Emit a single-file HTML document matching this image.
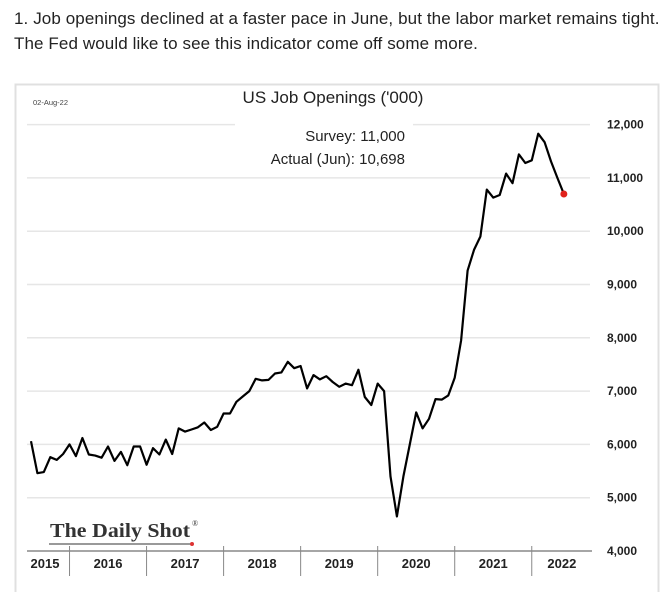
<!DOCTYPE html>
<html><head><meta charset="utf-8"><style>
body{margin:0;width:670px;height:592px;background:#fff;overflow:hidden;font-family:"Liberation Sans",sans-serif}
.hdr{position:absolute;left:14px;top:6px;font-size:17px;line-height:25px;color:#222;letter-spacing:0.1px;white-space:nowrap}
</style></head><body>
<div class="hdr">1. Job openings declined at a faster pace in June, but the labor market remains tight.<br>The Fed would like to see this indicator come off some more.</div>
<svg id="chart" width="670" height="592" style="position:absolute;left:0;top:0">
<rect x="15.5" y="84.5" width="643" height="520" fill="none" stroke="#e0e0e0" stroke-width="2"/>
<text x="33" y="105" font-size="7.5" fill="#444">02-Aug-22</text>
<text x="333" y="103" font-size="17" text-anchor="middle" fill="#222">US Job Openings ('000)</text>
<text x="405" y="141" font-size="15" text-anchor="end" fill="#222">Survey:  11,000</text>
<text x="405" y="164" font-size="15" text-anchor="end" fill="#222">Actual (Jun):  10,698</text>
<g id="grid"></g><g id="axis"></g><g id="series"></g>
<g>
<text x="50" y="537" font-family="Liberation Serif,serif" font-size="20" font-weight="bold" fill="#333" textLength="140" lengthAdjust="spacingAndGlyphs">The Daily Shot</text>
<text x="192" y="526" font-family="Liberation Serif,serif" font-size="8" fill="#333">®</text>
<line x1="49" y1="544" x2="192" y2="544" stroke="#333" stroke-width="1"/>
<circle cx="192" cy="544" r="2" fill="#d33"/>
</g>
</svg>
<script>
const yTicks=[4000,5000,6000,7000,8000,9000,10000,11000,12000];
const years=["2015","2016","2017","2018","2019","2020","2021","2022"];
const startMonth=6;
const values=[6060,5460,5480,5760,5710,5820,6000,5780,6120,5810,5790,5750,5960,5690,5860,5610,5960,5960,5620,5930,5810,6090,5820,6300,6240,6280,6320,6410,6270,6330,6580,6580,6800,6900,7000,7230,7200,7210,7330,7350,7550,7430,7470,7050,7300,7220,7280,7170,7080,7140,7110,7400,6890,6740,7140,7000,5400,4650,5400,6000,6600,6300,6480,6850,6840,6920,7250,7950,9260,9650,9900,10780,10630,10680,11080,10900,11440,11280,11330,11830,11670,11310,11000,10698];
const NS="http://www.w3.org/2000/svg";
const x0=31,step=6.42;
const xm=m=>x0+(m-startMonth)*step;
const y=v=>551-(v-4000)*0.0533;
function mk(t,a,p){const e=document.createElementNS(NS,t);for(const k in a)e.setAttribute(k,a[k]);p.appendChild(e);return e;}
const grid=document.getElementById('grid'),axis=document.getElementById('axis'),ser=document.getElementById('series');
yTicks.forEach(v=>{
 if(v>4000){
  if(v===12000){
   const g1=mk('line',{x1:27,x2:235,y1:y(v),y2:y(v),stroke:'#e6e6e6','stroke-width':1.5},grid);
   
   const g2=mk('line',{x1:413,x2:590,y1:y(v),y2:y(v),stroke:'#e6e6e6','stroke-width':1.5},grid);
   
  } else {
   const g=mk('line',{x1:27,x2:590,y1:y(v),y2:y(v),stroke:'#e6e6e6','stroke-width':1.5},grid);
   
  }
 }
 const t=mk('text',{x:607,y:y(v)+4,'font-size':12,'font-weight':'bold',fill:'#222'},axis);
 t.textContent=v.toLocaleString('en-US');
 
});
const al=mk('line',{x1:27,x2:592,y1:551,y2:551,stroke:'#888','stroke-width':1.5},axis);

years.forEach((yr,i)=>{
 const xs=Math.max(27,xm(i*12)),xe=Math.min(592,xm(i*12+12));
 if(i>0){const tk=mk('line',{x1:xm(i*12),x2:xm(i*12),y1:546,y2:576,stroke:'#888','stroke-width':1},axis);
  }
 const t=mk('text',{x:i===0?45:(xs+xe)/2,y:568,'font-size':13,'font-weight':'bold','text-anchor':'middle',fill:'#222'},axis);
 t.textContent=yr;
 
});
const pts=values.map((v,i)=>xm(startMonth+i).toFixed(1)+','+y(v).toFixed(1)).join(' ');
const pl=mk('polyline',{points:pts,fill:'none',stroke:'#000','stroke-width':2.2,'stroke-linejoin':'round'},ser);

const li=values.length-1;
const dot=mk('circle',{cx:xm(startMonth+li),cy:y(values[li]),r:3.5,fill:'#e0231c'},ser);

</script>
</body></html>
